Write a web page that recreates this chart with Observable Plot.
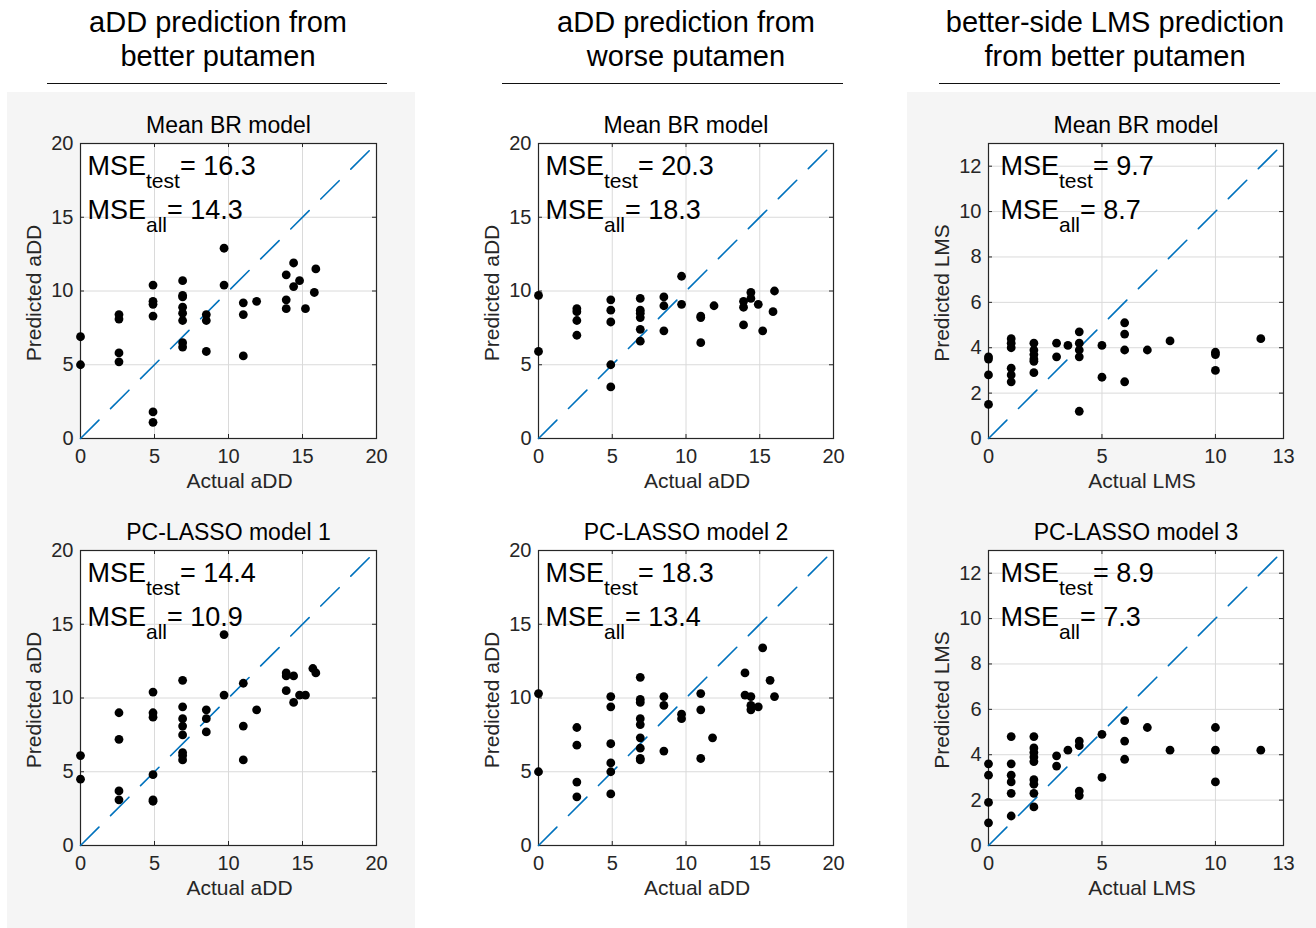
<!DOCTYPE html>
<html><head><meta charset="utf-8">
<script src="https://cdn.jsdelivr.net/npm/d3@7"></script>
<script src="https://cdn.jsdelivr.net/npm/@observablehq/plot@0.6"></script>
<style>
body{margin:0;background:#fff;font-family:"Liberation Sans",Arial,sans-serif;}
#root{position:relative;width:1316px;height:928px;overflow:hidden;background:#fff}
.bg{position:absolute;background:#f5f5f5}
.hdr{position:absolute;text-align:center;font-size:29px;line-height:34px;color:#000;white-space:nowrap}
.rule{position:absolute;height:0;border-top:1.6px solid #111}
.panel{position:absolute}
</style></head><body><div id="root"></div>
<script>
// ---- Column headers ----
const headers = [
  ["aDD prediction from", "better putamen"],
  ["aDD prediction from", "worse putamen"],
  ["better-side LMS prediction", "from better putamen"]
];
const rowTitles = [["Mean BR model", "Mean BR model", "Mean BR model"],
                   ["PC-LASSO model 1", "PC-LASSO model 2", "PC-LASSO model 3"]];
const mseTest = [["16.3", "20.3", "9.7"], ["14.4", "18.3", "8.9"]];
const mseAll  = [["14.3", "18.3", "8.7"], ["10.9", "13.4", "7.3"]];
const xLabels = ["Actual aDD", "Actual aDD", "Actual LMS"];
const yLabels = ["Predicted aDD", "Predicted aDD", "Predicted LMS"];
const aDDDomain = [0, 20];
const lmsDomain = [0, 13];
const aDDTicks = [0, 5, 10, 15, 20];
const lmsXTicks = [0, 5, 10, 13];
const lmsYTicks = [0, 2, 4, 6, 8, 10, 12];

// ---- Data: aDD from better putamen, Mean BR ----
const p1x = [0,0, 2.6,2.6,2.6,2.6, 4.9,4.9,4.9,4.9,4.9,4.9, 6.9,6.9,6.9,6.9,6.9,6.9,6.9,6.9, 8.5,8.5,8.5, 9.7,9.7, 11,11,11, 11.9, 13.9,13.9,13.9, 14.4,14.4, 14.8, 15.2, 15.8, 15.9];
const p1y = [6.9,5.0, 8.4,8.1,5.8,5.2, 10.4,9.3,9.1,8.3,1.8,1.1, 10.7,9.7,9.6,8.9,8.5,8.0,6.5,6.2, 8.4,8.0,5.9, 12.9,10.4, 9.2,8.4,5.6, 9.3, 11.1,9.4,8.8, 11.9,10.3, 10.7, 8.8, 9.9, 11.5];
// ---- aDD from worse putamen, Mean BR ----
const p2x = [0,0, 2.6,2.6,2.6,2.6, 4.9,4.9,4.9,4.9,4.9, 6.9,6.9,6.9,6.9,6.9,6.9, 8.5,8.5,8.5, 9.7,9.7, 11,11,11, 11.9, 13.9,13.9,13.9, 14.4,14.4, 14.9, 15.2, 15.9, 16.0];
const p2y = [9.7,5.9, 8.8,8.6,8.0,7.0, 9.4,8.7,7.9,5.0,3.5, 9.5,8.7,8.5,8.2,7.4,6.6, 9.6,9.0,7.3, 11.0,9.1, 8.3,8.2,6.5, 9.0, 9.3,8.9,7.7, 9.9,9.5, 9.1, 7.3, 8.6, 10.0];
// ---- LMS from better putamen, Mean BR ----
const p3x = [0,0,0,0, 1,1,1,1,1,1, 2,2,2,2,2,2, 3,3, 3.5, 4,4,4,4,4, 5,5, 6,6,6,6, 7, 8, 10,10,10, 12];
const p3y = [3.6,3.5,2.8,1.5, 4.4,4.2,4.0,3.1,2.8,2.5, 4.2,3.9,3.7,3.5,3.4,2.9, 4.2,3.6, 4.1, 4.7,4.2,3.9,3.6,1.2, 4.1,2.7, 5.1,4.6,3.9,2.5, 3.9, 4.3, 3.8,3.7,3.0, 4.4];
// ---- aDD from better putamen, PC-LASSO 1 ----
const p4x = [0,0, 2.6,2.6,2.6,2.6, 4.9,4.9,4.9,4.9,4.9,4.9, 6.9,6.9,6.9,6.9,6.9,6.9,6.9,6.9, 8.5,8.5,8.5, 9.7,9.7, 11,11,11, 11.9, 13.9,13.9,13.9, 14.4,14.4, 14.8, 15.2, 15.7, 15.9];
const p4y = [6.1,4.5, 9.0,7.2,3.7,3.1, 10.4,9.0,8.7,4.8,3.1,3.0, 11.2,9.4,8.6,8.1,7.5,6.3,6.1,5.8, 9.2,8.6,7.7, 14.3,10.2, 11.0,8.1,5.8, 9.2, 11.7,11.5,10.5, 11.5,9.7, 10.2, 10.2, 12.0, 11.7];
// ---- aDD from worse putamen, PC-LASSO 2 ----
const p5x = [0,0, 2.6,2.6,2.6,2.6, 4.9,4.9,4.9,4.9,4.9,4.9, 6.9,6.9,6.9,6.9,6.9,6.9,6.9,6.9,6.9, 8.5,8.5,8.5, 9.7,9.7, 11,11,11, 11.8, 14.0,14.0, 14.4,14.4,14.4, 14.9, 15.2, 15.7, 16.0];
const p5y = [10.3,5.0, 8.0,6.8,4.3,3.3, 10.1,9.4,6.9,5.6,5.0,3.5, 11.4,9.9,9.7,8.6,8.2,7.3,6.6,5.9,5.8, 10.1,9.5,6.4, 8.9,8.6, 10.3,9.2,5.9, 7.3, 11.7,10.2, 10.1,9.5,9.2, 9.4, 13.4, 11.2, 10.1];
// ---- LMS from better putamen, PC-LASSO 3 ----
const p6x = [0,0,0,0, 1,1,1,1,1,1, 2,2,2,2,2,2,2,2,2, 3,3, 3.5, 4,4,4,4, 5,5, 6,6,6, 7, 8, 10,10,10, 12];
const p6y = [3.6,3.1,1.9,1.0, 4.8,3.6,3.1,2.8,2.3,1.3, 4.8,4.3,4.1,3.9,3.7,2.9,2.7,2.3,1.7, 3.95,3.5, 4.2, 4.6,4.4,2.4,2.2, 4.9,3.0, 5.5,4.6,3.8, 5.2, 4.2, 5.2,4.2,2.8, 4.2];

const panelData = [[[p1x,p1y],[p2x,p2y],[p3x,p3y]],[[p4x,p4y],[p5x,p5y],[p6x,p6y]]];

// ---- Layout (pixels) ----
const colLeft = [80, 538, 988];
const colWidth = [296, 295, 295];
const colCenter = [218, 686, 1115];
const ruleSpan = [[47,387],[502,843],[939,1280]];
const rowTop = [143, 550];
const frameH = 295;
const mseDx = [7, 7, 12];
const xLabelDx = [11, 11, 6];
const ML = 80, MR = 25, MT = 45, MB = 62;
const FONT = "'Liberation Sans', Arial, Helvetica, sans-serif";

const root = document.getElementById("root");
// gray backgrounds
[[7,415],[907,1316]].forEach(([a,b]) => {
  const d = document.createElement("div");
  d.className = "bg";
  Object.assign(d.style, {left:a+"px", top:"92px", width:(b-a)+"px", height:(928-92)+"px"});
  root.appendChild(d);
});
// headers
headers.forEach((lines, c) => {
  const d = document.createElement("div");
  d.className = "hdr";
  d.style.left = (colCenter[c] - 200) + "px";
  d.style.width = "400px";
  d.style.top = "5px";
  d.innerHTML = lines.join("<br>");
  root.appendChild(d);
  const r = document.createElement("div");
  r.className = "rule";
  Object.assign(r.style, {left: ruleSpan[c][0]+"px", top:"83px", width:(ruleSpan[c][1]-ruleSpan[c][0])+"px"});
  root.appendChild(r);
});

function fixMSE(svg){
  d3.select(svg).selectAll("text").each(function(){
    const t = this.textContent;
    if (!t.includes("|")) return;
    const [a, sub, b] = t.split("|");
    const sel = d3.select(this);
    sel.text(null);
    sel.append("tspan").text(a);
    sel.append("tspan").attr("dy", 13).attr("font-size", 21).text(sub);
    sel.append("tspan").attr("dy", -13).text(b);
  });
}

for (let r = 0; r < 2; r++) {
  for (let c = 0; c < 3; c++) {
    const isLMS = c === 2;
    const domain = isLMS ? lmsDomain : aDDDomain;
    const xt = isLMS ? lmsXTicks : aDDTicks;
    const yt = isLMS ? lmsYTicks : aDDTicks;
    const xInner = xt.filter(v => v > domain[0] && v < domain[1]);
    const yInner = yt.filter(v => v > domain[0] && v < domain[1]);
    const [xs, ys] = panelData[r][c];
    const pts = xs.map((v, i) => ({x: v, y: ys[i]}));
    const fw = colWidth[c];
    const tickCol = "#262626";
    const svg = Plot.plot({
      width: ML + fw + MR,
      height: MT + frameH + MB,
      marginLeft: ML, marginRight: MR, marginTop: MT, marginBottom: MB,
      style: {fontFamily: FONT, background: "transparent", color: tickCol, overflow: "visible"},
      x: {domain: domain},
      y: {domain: domain},
      marks: [
        Plot.frame({fill: "white", stroke: "none"}),
        Plot.gridX(xInner, {stroke: "#dadada", strokeOpacity: 1, strokeWidth: 1}),
        Plot.gridY(yInner, {stroke: "#dadada", strokeOpacity: 1, strokeWidth: 1}),
        Plot.frame({stroke: tickCol, strokeWidth: 1.2}),
        Plot.ruleY(yInner, {stroke: tickCol, insetRight: fw - 4}),
        Plot.ruleY(yInner, {stroke: tickCol, insetLeft: fw - 4}),
        Plot.ruleX(xInner, {stroke: tickCol, insetTop: frameH - 4}),
        Plot.ruleX(xInner, {stroke: tickCol, insetBottom: frameH - 4}),
        Plot.line(domain, {x: d => d, y: d => d, stroke: "#0072BD", strokeWidth: 1.6, strokeDasharray: "26,16.4"}),
        Plot.dot(pts, {x: "x", y: "y", r: 4.4, fill: "#000", stroke: "none"}),
        Plot.axisX(xt, {tickSize: 0, tickPadding: 10, fontSize: 20, label: null, fill: tickCol}),
        Plot.axisY(yt, {tickSize: 0, tickPadding: 7, fontSize: 20, label: null, fill: tickCol}),
        Plot.text([rowTitles[r][c]], {frameAnchor: "top", textAnchor: "middle", lineAnchor: "bottom", dy: -11, fontSize: 23, fill: "#000"}),
        Plot.text([xLabels[c]], {frameAnchor: "bottom", textAnchor: "middle", lineAnchor: "bottom", dx: xLabelDx[c], dy: 49, fontSize: 21, fill: tickCol}),
        Plot.text([yLabels[c]], {frameAnchor: "left", textAnchor: "middle", lineAnchor: "bottom", rotate: -90, dx: -40, dy: 2, fontSize: 21, fill: tickCol}),
        Plot.text(["MSE|test|= " + mseTest[r][c]], {frameAnchor: "top-left", textAnchor: "start", lineAnchor: "bottom", dx: mseDx[c], dy: 31, fontSize: 27, fill: "#000"}),
        Plot.text(["MSE|all|= " + mseAll[r][c]], {frameAnchor: "top-left", textAnchor: "start", lineAnchor: "bottom", dx: mseDx[c], dy: 75, fontSize: 27, fill: "#000"})
      ]
    });
    fixMSE(svg);
    const wrap = document.createElement("div");
    wrap.className = "panel";
    wrap.style.left = (colLeft[c] - ML) + "px";
    wrap.style.top = (rowTop[r] - MT) + "px";
    wrap.appendChild(svg);
    root.appendChild(wrap);
  }
}
</script>
</body></html>
